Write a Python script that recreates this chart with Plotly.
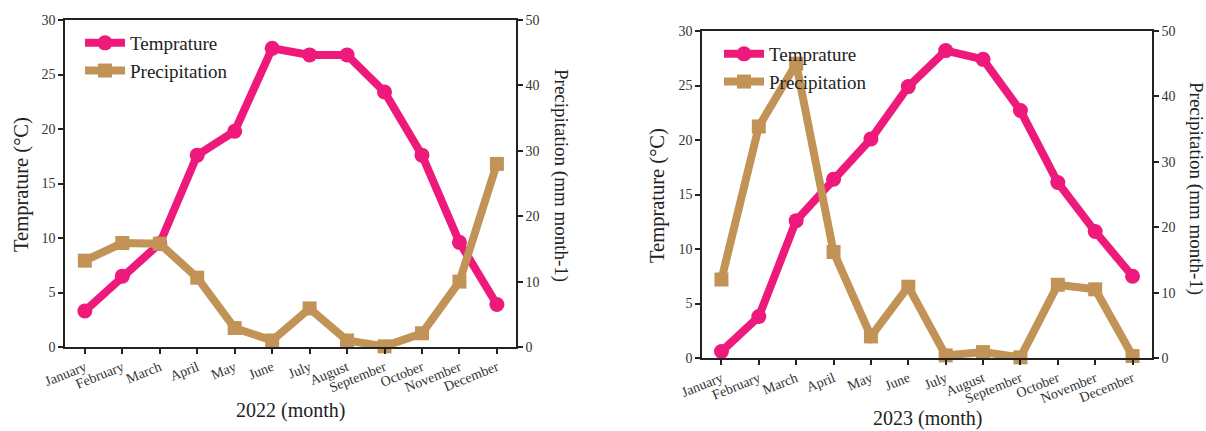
import plotly.graph_objects as go

months = ["January", "February", "March", "April", "May", "June", "July",
          "August", "September", "October", "November", "December"]

temp_2022 = [3.3, 6.5, 9.5, 17.6, 19.8, 27.4, 26.8, 26.8, 23.4, 17.6, 9.6, 3.9]
precip_2022 = [13.2, 15.9, 15.8, 10.6, 2.9, 1.0, 5.9, 1.0, 0.1, 2.1, 10.0, 28.0]

temp_2023 = [0.6, 3.8, 12.6, 16.4, 20.1, 24.9, 28.2, 27.4, 22.7, 16.1, 11.6, 7.5]
precip_2023 = [12.0, 35.4, 45.0, 16.2, 3.3, 10.9, 0.4, 0.9, 0.1, 11.2, 10.5, 0.3]

TEMP_COLOR = "#EE1A7B"
PREC_COLOR = "#C29356"
FONT = "Liberation Serif"

fig = go.Figure()

def add_pair(temp, prec, xa, ya_l, ya_r, legend):
    fig.add_trace(go.Scatter(
        x=months, y=temp, name="Temprature", mode="lines+markers",
        line=dict(color=TEMP_COLOR, width=8),
        marker=dict(symbol="circle", size=15, color=TEMP_COLOR),
        xaxis=xa, yaxis=ya_l, legend=legend, cliponaxis=False))
    fig.add_trace(go.Scatter(
        x=months, y=prec, name="Precipitation", mode="lines+markers",
        line=dict(color=PREC_COLOR, width=8),
        marker=dict(symbol="square", size=14, color=PREC_COLOR),
        xaxis=xa, yaxis=ya_r, legend=legend, cliponaxis=False))

add_pair(temp_2022, precip_2022, "x", "y", "y2", "legend")
add_pair(temp_2023, precip_2023, "x2", "y3", "y4", "legend2")

d1x = [65 / 1206, 516 / 1206]
d1y = [1 - 347 / 431, 1 - 20 / 431]
d2x = [702 / 1206, 1152 / 1206]
d2y = [1 - 358 / 431, 1 - 31 / 431]

tickfont = dict(family=FONT, size=14, color="#333")
xtickfont = dict(family=FONT, size=14, color="#333")
axis_common = dict(showline=True, linecolor="#222", linewidth=1.5,
                   ticks="outside", ticklen=5, tickcolor="#222", tickwidth=1.5,
                   showgrid=False, zeroline=False, automargin=False)

fig.update_layout(
    template="none",
    width=1206, height=431,
    margin=dict(l=0, r=0, t=0, b=0, pad=0),
    paper_bgcolor="white", plot_bgcolor="white",
    font=dict(family=FONT, color="#222"),
    xaxis=dict(domain=d1x, anchor="y", range=[-0.53, 11.51], tickangle=-22,
               tickfont=xtickfont, mirror=True, **axis_common),
    yaxis=dict(domain=d1y, anchor="x", range=[0, 30], dtick=5,
               tickfont=tickfont, **axis_common),
    yaxis2=dict(overlaying="y", anchor="x", side="right", range=[0, 50], dtick=10,
                tickfont=tickfont, **axis_common),
    xaxis2=dict(domain=d2x, anchor="y3", range=[-0.52, 11.52], tickangle=-22,
                tickfont=xtickfont, mirror=True, **axis_common),
    yaxis3=dict(domain=d2y, anchor="x2", range=[0, 30], dtick=5,
                tickfont=tickfont, **axis_common),
    yaxis4=dict(overlaying="y3", anchor="x2", side="right", range=[0, 50], dtick=10,
                tickfont=tickfont, **axis_common),
    legend=dict(x=80 / 1206, y=1 - 24 / 431, xanchor="left", yanchor="top",
                bgcolor="rgba(0,0,0,0)", font=dict(family=FONT, size=19, color="#222"),
                tracegroupgap=0, itemwidth=40, borderwidth=0),
    legend2=dict(x=719 / 1206, y=1 - 35 / 431, xanchor="left", yanchor="top",
                 bgcolor="rgba(0,0,0,0)", font=dict(family=FONT, size=19, color="#222"),
                 tracegroupgap=0, itemwidth=40, borderwidth=0),
    showlegend=True,
)

annotations = [
    dict(text="Temprature (°C)", x=21 / 1206, y=1 - 185 / 431, textangle=-90, size=20.5),
    dict(text="Precipitation (mm month-1)", x=561 / 1206, y=1 - 175 / 431, textangle=90, size=19),
    dict(text="2022 (month)", x=290 / 1206, y=1 - 410 / 431, textangle=0, size=20),
    dict(text="Temprature (°C)", x=657 / 1206, y=1 - 196 / 431, textangle=-90, size=20.5),
    dict(text="Precipitation (mm month-1)", x=1196 / 1206, y=1 - 188 / 431, textangle=90, size=19),
    dict(text="2023 (month)", x=927 / 1206, y=1 - 418 / 431, textangle=0, size=20),
]
for a in annotations:
    size = a.pop("size")
    fig.add_annotation(xref="paper", yref="paper", showarrow=False,
                       xanchor="center", yanchor="middle",
                       font=dict(family=FONT, size=size, color="#222"), **a)

fig.write_html("out.html")
